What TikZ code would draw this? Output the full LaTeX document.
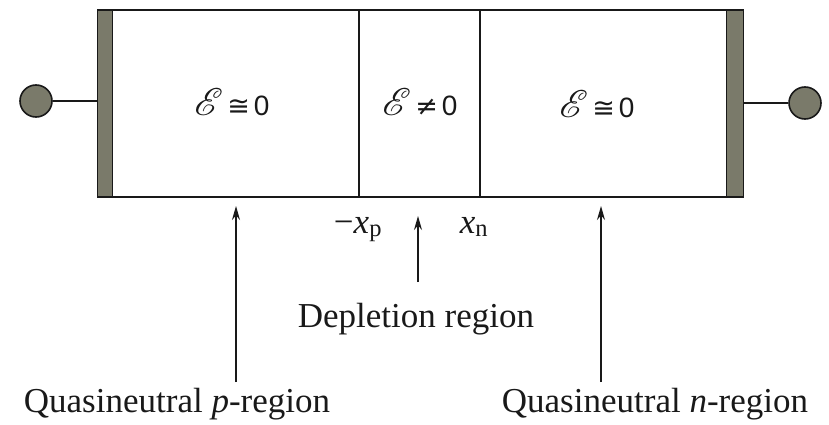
\documentclass[tikz,border=0pt]{standalone}
\usepackage{fontspec}
\setmainfont{Liberation Serif}
\setsansfont{Liberation Sans}
\newfontfamily\relfont{DejaVu Sans}
\usepackage{mathrsfs}
\usetikzlibrary{arrows.meta}
\definecolor{contact}{RGB}{122,122,106}
\definecolor{ink}{RGB}{25,25,25}
\newcommand{\fieldE}{\scalebox{1.55}{$\mathscr{E}$}}
\tikzset{
  frame/.style={draw=ink, line width=1.8pt},
  divider/.style={draw=ink, line width=1.2pt},
  contactbar/.style={draw=ink, fill=contact, line width=1.6pt},
  terminal/.style={circle, draw=ink, fill=contact, line width=1.6pt, minimum size=32pt, inner sep=0pt},
  lead/.style={draw=ink, line width=1.4pt},
  eqtext/.style={font=\fontsize{24}{28}\selectfont, text=ink, inner sep=0pt},
  lbl/.style={font=\fontsize{35}{40}\selectfont, text=ink, inner sep=0pt, anchor=base},
  pointer/.style={draw=ink, line width=1.3pt, -{Stealth[length=14pt, width=8pt]}},
}
\begin{document}
\begin{tikzpicture}[x=1pt, y=-1pt]
\useasboundingbox (0,0) rectangle (829,425);
% main box
\draw[frame] (105,10) rectangle (735,197);
% dividers
\coordinate (d1t) at (359,10); \coordinate (d1b) at (359,197);
\coordinate (d2t) at (480,10); \coordinate (d2b) at (480,197);
\draw[divider] (d1t) -- (d1b);
\draw[divider] (d2t) -- (d2b);
% contacts
\node[contactbar, minimum width=15pt, minimum height=187pt, inner sep=0pt] (lbar) at (105,103.5) {};
\node[contactbar, minimum width=17pt, minimum height=187pt, inner sep=0pt] (rbar) at (735,103.5) {};
\node[terminal] (lterm) at (36,101) {};
\node[terminal] (rterm) at (805,103) {};
\draw[lead] (lterm.east) -- (lterm.east -| lbar.west);
\draw[lead] (rterm.west) -- (rterm.west -| rbar.east);
% field labels
\node[eqtext] (e1) at (232,102) {\fieldE\kern4pt{\relfont\fontsize{27}{30}\selectfont ≅}\kern4pt{\fontsize{28}{32}\selectfont\textsf{0}}};
\node[eqtext] (e2) at (420,102) {\fieldE\kern4pt{\relfont\fontsize{27}{30}\selectfont ≠}\kern4pt{\fontsize{28}{32}\selectfont\textsf{0}}};
\node[eqtext] (e3) at (597,104) {\fieldE\kern4pt{\relfont\fontsize{27}{30}\selectfont ≅}\kern4pt{\fontsize{28}{32}\selectfont\textsf{0}}};
% position labels
\node[lbl] (xp) at (358,233) {−\textit{x}\textsubscript{p}};
\node[lbl] (xn) at (474,233) {\textit{x}\textsubscript{n}};
% region labels
\node[lbl] (dep) at (416,327) {Depletion region};
\node[lbl] (qp) at (177,412) {Quasineutral \textit{p}-region};
\node[lbl] (qn) at (655,412) {Quasineutral \textit{n}-region};
% pointers
\coordinate (pa) at (236,382); \coordinate (pt) at (236,206);
\coordinate (ma) at (418,282); \coordinate (mt) at (418,216);
\coordinate (na) at (601,382); \coordinate (nt) at (601,206);
\draw[pointer] (pa) -- (pt);
\draw[pointer] (ma) -- (mt);
\draw[pointer] (na) -- (nt);
\end{tikzpicture}
\end{document}
